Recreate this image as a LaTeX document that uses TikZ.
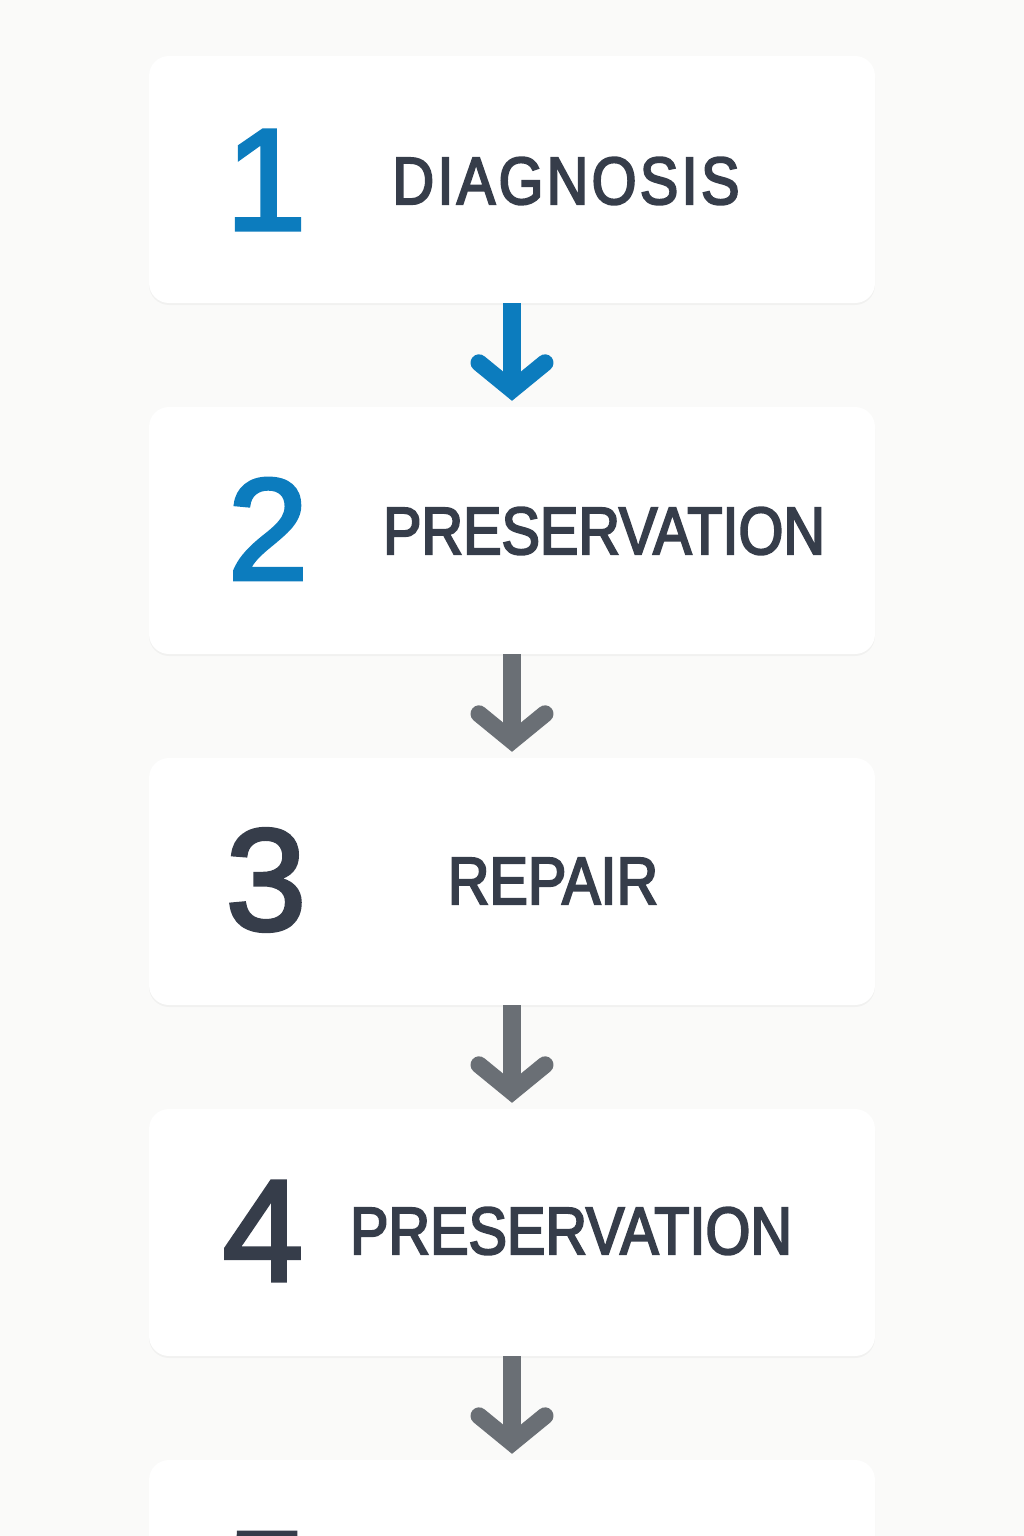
\documentclass[tikz,border=0pt]{standalone}
\usepackage{fontspec}
\setmainfont{Liberation Sans}
\newfontfamily\numfont[FakeBold=2.5]{Liberation Sans}
\newfontfamily\stepfont[FakeStretch=0.86,FakeBold=3]{Liberation Sans}
\usetikzlibrary{arrows.meta,shadows}
\definecolor{stepblue}{RGB}{12,124,190}
\definecolor{stepdark}{RGB}{54,61,74}
\definecolor{stepgrey}{RGB}{106,111,117}
\definecolor{pagebg}{RGB}{250,250,249}

\begin{document}
\begin{tikzpicture}[x=1pt, y=-1pt]
		\tikzstyle{card}=[draw=none, fill=white, rounded corners=20pt, minimum width=726pt, minimum height=247pt, drop shadow={shadow xshift=0pt, shadow yshift=-2pt, opacity=0.035, fill=black}]
		\tikzstyle{num}=[font=\numfont\fontsize{145}{145}\selectfont, text=stepdark, inner sep=0pt]
		\tikzstyle{word}=[font=\stepfont\fontsize{67}{67}\selectfont, text=stepdark, inner sep=0pt]
		\tikzstyle{flow}=[line width=18pt, -{Straight Barb[length=27pt, width=66pt, line width=17pt 0 0, line cap=round, line join=miter]}]
			\clip (0,0) rectangle (1024,1536);
			\fill[pagebg] (0,0) rectangle (1024,1536);

			\node[card] (diag) at (512,179.5) {};
			\node[card] (pres) at (512,530.5) {};
			\node[card] (rep) at (512,881.5) {};
			\node[card] (pres2) at (512,1232.5) {};
			\node[card] (next) at (512,1583.5) {};

			\node[num, text=stepblue] (n1) at (266,180) {1};
			\node[num, text=stepblue] (n2) at (268,529) {2};
			\node[num] (n3) at (266,880) {3};
			\node[num] (n4) at (263,1231) {4};
			\node[num] (n5) at (267,1583) {5};

			\node[word] (diagtext) at (566,181) {\addfontfeature{LetterSpace=5}DIAGNOSIS};
			\node[word] (prestext) at (604,531) {PRESERVATION};
			\node[word] (reptext) at (553,881) {REPAIR};
			\node[word] (pres2text) at (571,1231) {PRESERVATION};

			\draw[flow, stepblue] (diag.south) -- ([yshift=6pt]pres.north);
			\draw[flow, stepgrey] (pres.south) -- ([yshift=6pt]rep.north);
			\draw[flow, stepgrey] (rep.south) -- ([yshift=6pt]pres2.north);
			\draw[flow, stepgrey] (pres2.south) -- ([yshift=6pt]next.north);
		\end{tikzpicture}
\end{document}
